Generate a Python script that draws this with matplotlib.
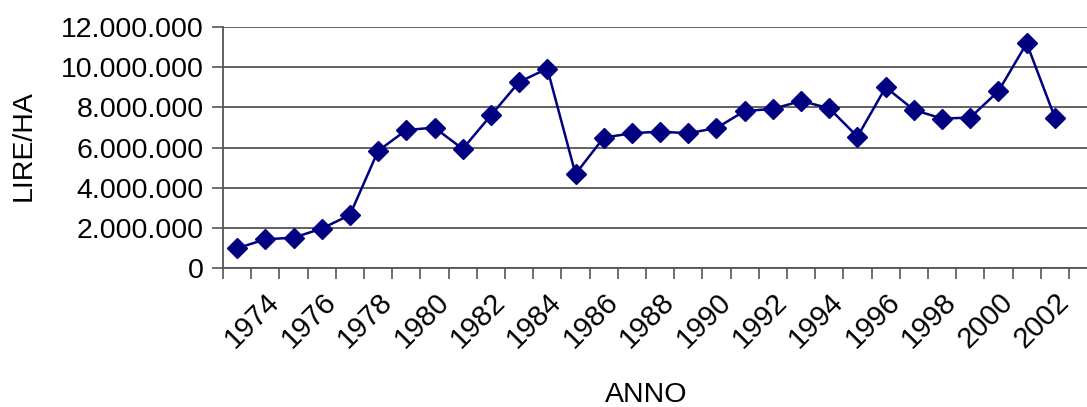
import matplotlib
matplotlib.use("Agg")
import matplotlib.pyplot as plt
from matplotlib.ticker import FuncFormatter, FixedLocator
from matplotlib.transforms import ScaledTranslation

years = list(range(1973, 2003))
values = [980000, 1430000, 1510000, 1960000, 2640000, 5830000, 6870000, 6990000,
          5930000, 7600000, 9260000, 9930000, 4680000, 6490000, 6710000, 6790000,
          6710000, 6970000, 7820000, 7920000, 8320000, 7950000, 6540000, 9000000,
          7870000, 7440000, 7490000, 8810000, 11190000, 7490000]
label_years = [y for y in years if y % 2 == 0]
y_ticks = [0, 2000000, 4000000, 6000000, 8000000, 10000000, 12000000]

plt.rcParams['font.family'] = ['Liberation Sans', 'DejaVu Sans']

W, H = 1087, 407
fig = plt.figure(figsize=(W / 100, H / 100), dpi=100)
left, right, top, bottom = 223, 1087, 27, 268
ax = fig.add_axes([left / W, 1 - bottom / H, (right - left) / W, (bottom - top) / H])

x = list(range(len(years)))
ax.plot(x, values, color='#000080', lw=1.8, marker='D', markersize=10.5,
        markeredgecolor='#000080', markerfacecolor='#000080', zorder=3, clip_on=False)

step = 28.2
ax.set_xlim(-0.5, -0.5 + (right - left) / step)
ax.set_ylim(0, 12000000)
ax.yaxis.set_major_locator(FixedLocator(y_ticks))
ax.yaxis.set_major_formatter(FuncFormatter(lambda v, p: f"{int(v):,}".replace(",", ".")))
ax.grid(axis='y', color='#555555', lw=1.3)
ax.set_axisbelow(True)

ax.set_xticks([i - 0.5 for i in range(len(years) + 1)], minor=False)
ax.set_xticklabels([])
ax.set_xticks([years.index(y) for y in label_years], minor=True)
labels = ax.set_xticklabels([str(y) for y in label_years], minor=True, rotation=45,
                            ha='right', va='top', rotation_mode='anchor', fontsize=21)
off = ScaledTranslation(9 / 100, -10 / 100, fig.dpi_scale_trans)
for t in labels:
    t.set_transform(t.get_transform() + off)
ax.tick_params(axis='x', which='minor', length=0, pad=14)
ax.tick_params(axis='x', which='major', length=8, width=1.2, color='#555555', direction='out')
ax.tick_params(axis='y', length=8, width=1.2, color='#555555', labelsize=20.5, pad=6)

for s in ['top', 'right']:
    ax.spines[s].set_visible(False)
for s in ['left', 'bottom']:
    ax.spines[s].set_color('#555555')
    ax.spines[s].set_linewidth(1.3)

fig.text(24 / W, 1 - 146 / H, 'LIRE/HA', rotation=90, ha='center', va='center', fontsize=20.5)
fig.text(646 / W, 1 - 395 / H, 'ANNO', ha='center', va='center', fontsize=20.5)

fig.savefig('out.png', dpi=100)
